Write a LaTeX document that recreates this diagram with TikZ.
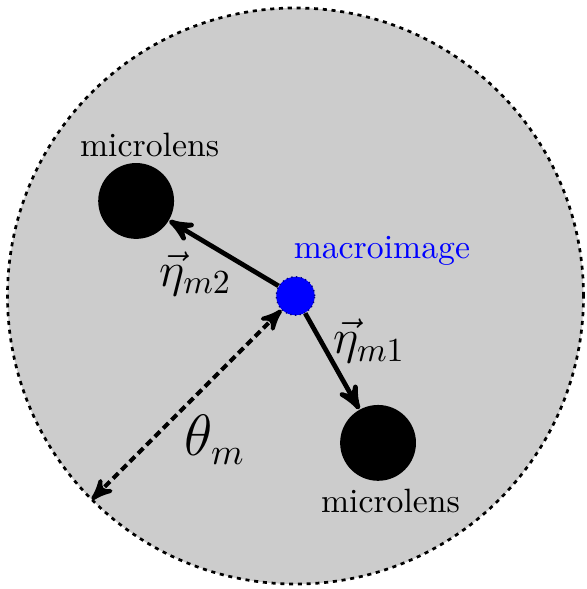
\documentclass[tikz,border=0pt]{standalone}
\usepackage{tikz}
\usetikzlibrary{positioning, arrows}
\tikzset{
	lensnode/.style={
			circle,
			fill=black,
			minimum size=7.9mm,
			inner sep=0pt
		},
	imagenode/.style={
			circle,
			draw=blue!50!black,
			densely dotted,
			thin,
			fill=blue,
			minimum size=4mm,
			inner sep=0pt
		},
	etaarrow/.style={
			line width=1.4pt,
			->,
			>=stealth'
		},
	thetaarrow/.style={
			very thick,
			<->,
			>=stealth',
			dash pattern=on 2.2pt off 1.3pt
		},
	rimline/.style={
			thick,
			dash pattern=on 1.2pt off 1.4pt,
			fill=gray!40
		}
}

\begin{document}
\begin{tikzpicture}
\useasboundingbox (-3.078,-3.052) rectangle (3.027,3.083);
\draw[rimline] (0,0) circle (3);

\node[imagenode] (macro) at (0,0) {};
\node[lensnode] (lens1) at (-1.66,0.99) {};
\node[lensnode] (lens2) at (0.86,-1.53) {};
\coordinate (rim) at (225:3);

\node (lab1) at (-1.52,1.57) {microlens};
\node (lab2) at (0.99,-2.13) {microlens};
\node[text=blue] (labm) at (0.90,0.47) {macroimage};

\draw[etaarrow] (macro) -- (lens1);
\draw[etaarrow] (macro) -- (lens2);
\draw[thetaarrow] (macro) -- (rim);

\node (eta2) at (-1.04,0.23) {\Large $\vec{\eta}_{m2}$};
\node (eta1) at (0.77,-0.47) {\Large $\vec{\eta}_{m1}$};
\node (theta) at (-0.84,-1.50) {\fontsize{16}{18}\selectfont $\theta_m$};
\end{tikzpicture}
\end{document}
